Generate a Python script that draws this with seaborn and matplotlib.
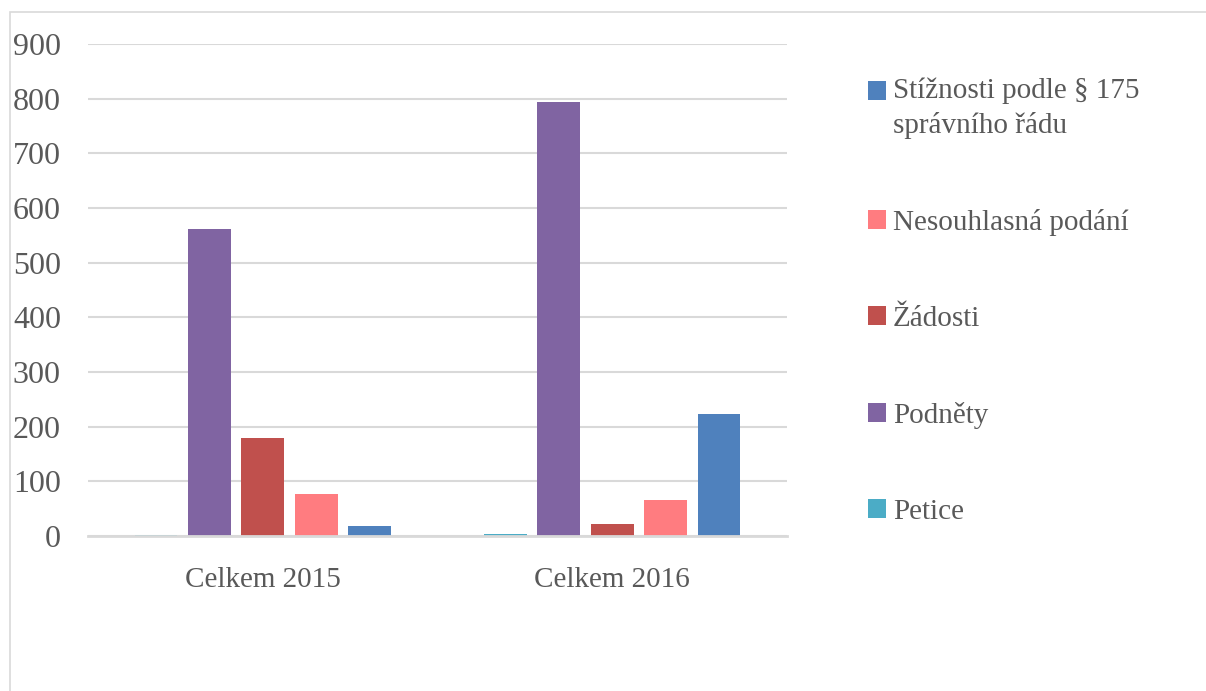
import matplotlib
matplotlib.use("Agg")
import matplotlib.pyplot as plt
import seaborn as sns
import pandas as pd
from matplotlib.patches import Patch, Rectangle

categories = ["Celkem 2015", "Celkem 2016"]
series = ["Petice", "Podněty", "Žádosti", "Nesouhlasná podání",
          "Stížnosti podle § 175\nsprávního řádu"]
petice = [1, 3]
podnety = [561, 794]
zadosti = [179, 22]
nesouhlasna = [77, 66]
stiznosti = [18, 223]
colors = ["#4BACC6", "#8064A2", "#C0504D", "#FF7C80", "#4F81BD"]
yticks = [0, 100, 200, 300, 400, 500, 600, 700, 800, 900]

rows = []
for s, vals in zip(series, [petice, podnety, zadosti, nesouhlasna, stiznosti]):
    for c, v in zip(categories, vals):
        rows.append({"cat": c, "series": s, "value": v})
df = pd.DataFrame(rows)

sns.set_theme(style="white")
plt.rcParams["font.family"] = ["Liberation Serif", "DejaVu Serif"]
txt = "#595959"
grid = "#D9D9D9"

fig = plt.figure(figsize=(12.06, 6.91), dpi=100)
ax = fig.add_axes([88/1206, 1-536/691, (787-88)/1206, (536-44)/691])

sns.barplot(data=df, x="cat", y="value", hue="series", order=categories,
            hue_order=series, palette=colors, width=0.764, gap=0.2,
            saturation=1, linewidth=0, ax=ax, legend=False)

ax.set_ylim(0, 900)
ax.set_xlim(-0.5, 1.5)
ax.set_yticks(yticks)
ax.set_yticklabels([str(t) for t in yticks])
ax.set_xlabel("")
ax.set_ylabel("")
ax.yaxis.grid(True, color=grid, linewidth=1.5)
ax.set_axisbelow(True)
for sp in ["top", "right", "left"]:
    ax.spines[sp].set_visible(False)
ax.spines["bottom"].set_color(grid)
ax.spines["bottom"].set_linewidth(2)
ax.tick_params(axis="y", length=0, pad=19.5, labelsize=23, labelcolor=txt)
ax.tick_params(axis="x", length=0, pad=22.5, labelsize=21, labelcolor=txt)

handles = [Patch(facecolor=c, edgecolor="none") for c in colors][::-1]
labels = series[::-1]
leg = fig.legend(handles, labels, loc="upper left",
                 bbox_to_anchor=(856/1206, 1-66/691), frameon=False,
                 fontsize=21, labelcolor=txt, handlelength=0.62,
                 handleheight=0.62, handletextpad=0.24, labelspacing=2.4,
                 borderaxespad=0)
leg.get_texts()[0].set_linespacing(1.35)
first = leg.legend_handles[0]
first.set_y(first.get_y() + 12.3)

fig.add_artist(Rectangle((10/1206, -0.1), 1.1, 1-12/691+0.1,
                         transform=fig.transFigure, fill=False,
                         edgecolor=grid, linewidth=1.2))

fig.savefig("out.png", dpi=100)
